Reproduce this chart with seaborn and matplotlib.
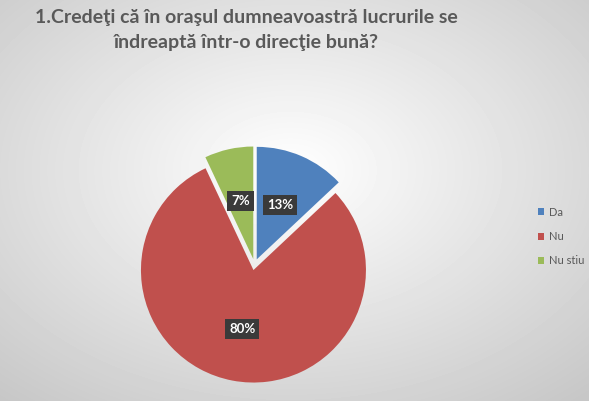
import numpy as np
import matplotlib
matplotlib.use("Agg")
import matplotlib.pyplot as plt
import seaborn as sns

# Date
categorii = ["Da", "Nu", "Nu stiu"]
procente = [13, 80, 7]
culori = ["#4F81BD", "#C0504D", "#9BBB59"]
titlu = "1.Credeţi că în oraşul dumneavoastră lucrurile se\nîndreaptă într-o direcţie bună?"

sns.set_theme(style="white")
plt.rcParams["font.family"] = ["Lato", "DejaVu Sans"]

fig = plt.figure(figsize=(5.89, 4.01), dpi=100)

# fundal cu gradient radial
bg = fig.add_axes([0, 0, 1, 1])
yy, xx = np.mgrid[0:401, 0:589]
d = np.sqrt(((xx - 290) / 589) ** 2 + ((yy - 170) / 401) ** 2)
d = np.clip(d / 0.75, 0, 1)
bg.imshow(1 - 0.22 * d, cmap="gray", vmin=0, vmax=1, aspect="auto")
bg.axis("off")

ax = fig.add_axes([0.2029, 0.0037, 0.4584, 0.6733])
wedges, texts, autotexts = ax.pie(
    procente,
    colors=sns.color_palette(culori),
    startangle=90,
    counterclock=False,
    explode=[0.05] * len(procente),
    autopct=lambda p: f"{p:.0f}%",
    pctdistance=0.53,
    wedgeprops=dict(linewidth=0),
    textprops=dict(color="white", fontsize=9.5, fontweight="bold"),
)
for t in autotexts:
    t.set_bbox(dict(boxstyle="square,pad=0.3", facecolor="#3a3a3a", edgecolor="none"))
ax.set_xlim(-1.2, 1.2)
ax.set_ylim(-1.2, 1.2)
ax.set_aspect("equal")
ax.axis("off")

fig.text(0.418, 0.978, titlu, ha="center", va="top", multialignment="center",
         fontsize=14, fontweight="bold", color="#595959", linespacing=1.55)

leg = fig.legend(
    wedges, categorii,
    loc="center left", bbox_to_anchor=(0.896, 0.41),
    frameon=False, fontsize=8, labelcolor="#595959",
    handlelength=0.6, handleheight=0.6, handletextpad=0.4,
    labelspacing=1.2,
)

plt.savefig("out.png", dpi=100)
plt.close()
